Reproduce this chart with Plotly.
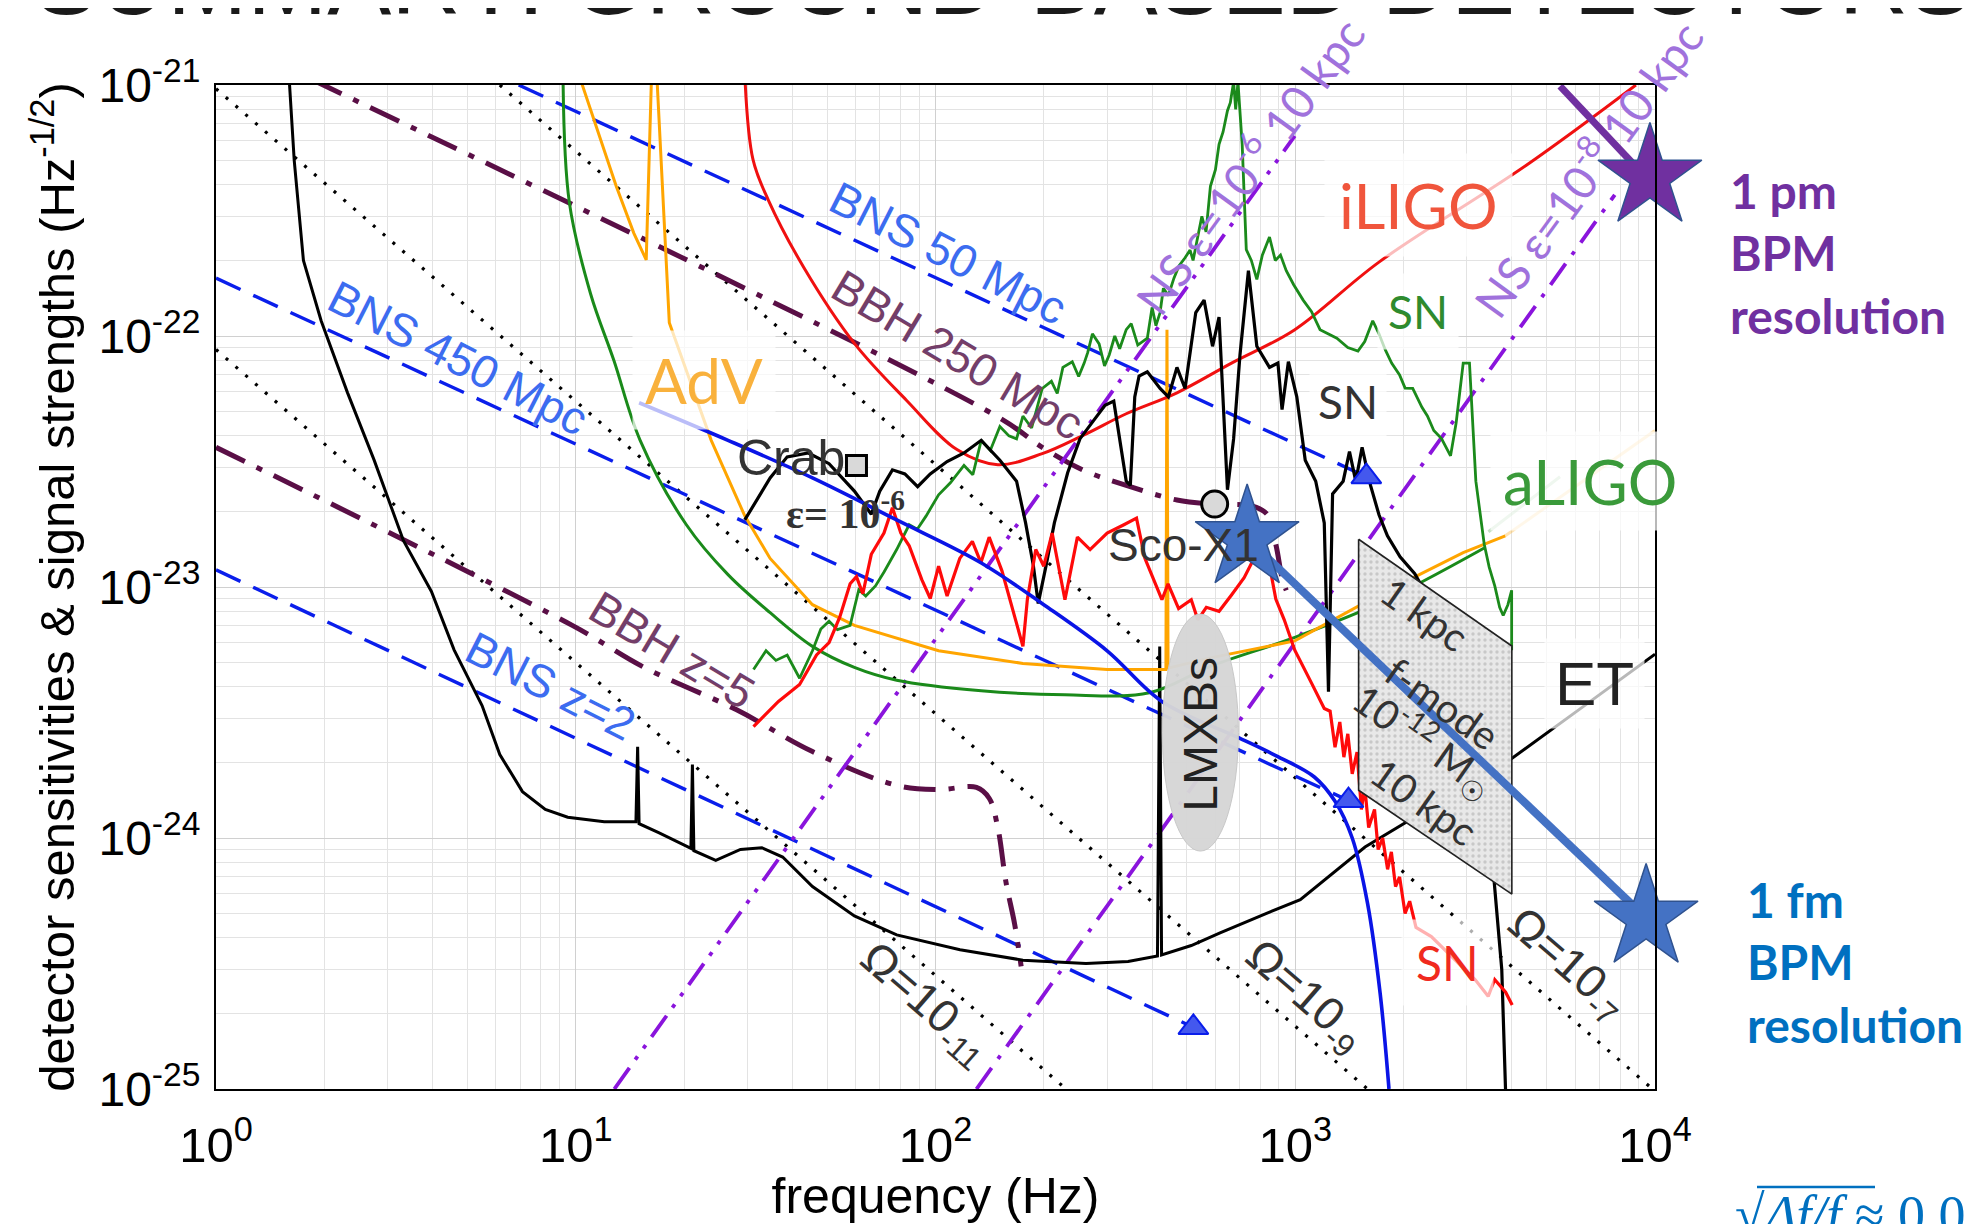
import plotly.graph_objects as go

# ---------------- axis ticks ----------------
X_TICKS = [1, 10, 100, 1000, 10000]
X_TICKTEXT = ["10<sup>0</sup>", "10<sup>1</sup>", "10<sup>2</sup>", "10<sup>3</sup>", "10<sup>4</sup>"]
Y_TICKS = [1e-25, 1e-24, 1e-23, 1e-22, 1e-21]
Y_TICKTEXT = ["10<sup>-25</sup>", "10<sup>-24</sup>", "10<sup>-23</sup>", "10<sup>-22</sup>", "10<sup>-21</sup>"]

# ---------------- detector sensitivity curves ----------------
ET_f = [1.60, 1.65, 1.75, 1.96, 2.32, 2.75, 3.32, 3.97, 4.59, 5.49, 6.15, 7.11, 8.23, 9.5, 12.0,
        14.7, 14.86, 15.0, 17.0, 20.3, 20.9, 21.1, 21.3, 24.5, 28.7, 32.9, 37.6, 45.5, 59.5, 78, 117,
        175, 262, 343, 414, 420, 425, 514, 618, 829, 1033, 1563, 2500, 3954, 6300, 10000]
ET_h = [1.02e-21, 5.0e-22, 2.0e-22, 1.15e-22, 5.95e-23, 3.21e-23, 1.53e-23, 9.6e-24, 5.62e-24, 3.37e-24,
        2.15e-24, 1.53e-24, 1.30e-24, 1.21e-24, 1.16e-24, 1.16e-24, 2.31e-24, 1.14e-24, 1.05e-24, 9.25e-25,
        9.1e-25, 1.96e-24, 8.9e-25, 8.15e-25, 9.0e-25, 9.15e-25, 8.4e-25, 6.41e-25, 4.89e-25, 4.11e-25,
        3.59e-25, 3.26e-25, 3.16e-25, 3.22e-25, 3.39e-25, 5.79e-24, 3.42e-25, 3.73e-25, 4.19e-25, 5.0e-25,
        5.68e-25, 9.2e-25, 1.38e-24, 2.05e-24, 3.33e-24, 5.4e-24]

ILIGO_f = [29.5, 31.1, 34.3, 43.0, 59.5, 83, 115, 149, 198, 259, 339, 469, 665, 997, 1709, 4389, 8850]
ILIGO_h = [1.1e-21, 5.04e-22, 3.48e-22, 1.88e-22, 9.35e-23, 5.55e-23, 3.52e-23, 3.07e-23, 3.4e-23,
           4.04e-23, 4.9e-23, 5.94e-23, 7.8e-23, 1.06e-22, 1.97e-22, 4.79e-22, 1.0e-21]

ADV_f = [10.2, 12.96, 14.5, 15.7, 16.3, 16.7, 18.2, 20.7, 23.8, 29.5, 34.7, 45.5, 59.5, 102, 175, 300,
         437, 440, 443, 581, 997, 1709, 2930, 3836]
ADV_h = [1.1e-21, 3.95e-22, 2.57e-22, 2.01e-22, 1.3e-21, 1.3e-21, 1.13e-22, 6.7e-23, 3.84e-23, 1.92e-23,
         1.30e-23, 8.5e-24, 7.03e-24, 5.57e-24, 4.96e-24, 4.69e-24, 4.69e-24, 1.06e-22, 4.75e-24, 5.22e-24,
         6.1e-24, 9.3e-24, 1.37e-23, 1.6e-23]
ADV_FADED_f = [3836, 10000]
ADV_FADED_h = [1.6e-23, 4.2e-23]

ALIGO_f = [9.22, 9.6, 11.0, 12.76, 15.1, 20.3, 26.5, 34.7, 45.5, 59.5, 78, 134, 229, 393, 581, 997, 1709, 3352]
ALIGO_h = [1.05e-21, 3.4e-22, 1.47e-22, 8.0e-23, 3.84e-23, 1.77e-23, 1.12e-23, 7.9e-24, 5.8e-24, 4.78e-24,
           4.25e-24, 3.86e-24, 3.72e-24, 3.79e-24, 4.83e-24, 6.3e-24, 8.6e-24, 1.43e-23]
ALIGO_FADED_f = [3443, 5445]
ALIGO_FADED_h = [1.66e-23, 2.75e-23]

# ---------------- supernova / signal curves ----------------
SN_GREEN_f = [31.2, 33.8, 36.0, 38.7, 41.9, 45.5, 48.0, 50.6, 53.4, 57.9, 61.2, 64.0, 68.1, 72.0, 78, 84.5,
              89, 94.2, 102, 110, 120, 127, 134, 142, 151, 160, 168, 175, 185, 198, 210, 218, 226, 240,
              250, 259, 265, 273, 285, 295, 304, 315, 325, 339, 350, 365, 388, 400, 410, 421, 430, 444,
              460, 475, 494, 510, 520, 536, 550, 565, 581, 600, 614, 630, 648, 660, 674, 683, 693, 712,
              731, 755, 782, 810, 848, 880, 910, 944, 990, 1052, 1110, 1172, 1240, 1305, 1400, 1494, 1560,
              1642, 1709, 1780, 1853, 1950, 2020, 2121, 2250, 2330, 2427, 2550, 2702, 2800, 2930, 3050,
              3177, 3260, 3352, 3460, 3586, 3700, 3785, 3900, 3995, 3995]
SN_GREEN_h = [4.69e-24, 5.57e-24, 5.1e-24, 5.36e-24, 4.33e-24, 5.57e-24, 6.8e-24, 7.3e-24, 6.76e-24, 7.03e-24,
              9.75e-24, 9.2e-24, 1.01e-23, 1.15e-23, 1.41e-23, 1.77e-23, 1.7e-23, 1.92e-23, 2.33e-23, 2.6e-23,
              3.05e-23, 2.8e-23, 3.84e-23, 3.5e-23, 4.36e-23, 4.0e-23, 3.89e-23, 4.8e-23, 4.3e-23, 6.18e-23,
              6.6e-23, 5.9e-23, 7.5e-23, 7.9e-23, 6.9e-23, 7.8e-23, 8.6e-23, 1.02e-22, 9.3e-23, 7.6e-23,
              8.4e-23, 1.0e-22, 8.9e-23, 1.06e-22, 1.12e-22, 9.2e-23, 9.8e-23, 1.3e-22, 1.1e-22, 1.24e-22,
              1.55e-22, 1.45e-22, 1.7e-22, 1.9e-22, 2.05e-22, 2.2e-22, 2.0e-22, 2.48e-22, 3.0e-22, 2.6e-22,
              3.95e-22, 4.6e-22, 5.8e-22, 6.5e-22, 7.9e-22, 8.5e-22, 1.03e-21, 8.0e-22, 1.03e-21, 5.8e-22,
              2.21e-22, 2.0e-22, 1.68e-22, 2.1e-22, 2.48e-22, 2.0e-22, 2.1e-22, 1.82e-22, 1.6e-22, 1.39e-22,
              1.25e-22, 1.06e-22, 1.02e-22, 9.8e-23, 9.0e-23, 8.7e-23, 9.5e-23, 1.15e-22, 1.02e-22, 8.8e-23,
              7.8e-23, 7.0e-23, 6.2e-23, 6.18e-23, 5.2e-23, 4.8e-23, 4.2e-23, 3.9e-23, 3.33e-23, 4.5e-23,
              7.8e-23, 7.8e-23, 2.64e-23, 2.0e-23, 1.48e-23, 1.2e-23, 1.01e-23, 8.3e-24, 7.7e-24, 8.5e-24,
              9.7e-24, 5.6e-24]

SN_BLACK_f = [29.5, 34.7, 38.7, 44.3, 50.6, 59.5, 66.3, 70, 75.9, 82.2, 89.2, 96.7, 107.7, 120, 134, 151,
              168, 178, 187, 193, 203, 214, 233, 252, 273, 296, 313, 339, 348, 358, 368, 388, 421, 444,
              469, 494, 529, 558, 589, 614, 648, 674, 702, 741, 782, 848, 895, 919, 957, 1010, 1066, 1140,
              1204, 1237, 1270, 1359, 1415, 1473, 1534, 1619, 1709, 1804, 1956, 2149, 2400, 2800, 3300,
              3450, 3600, 3750, 3900]
SN_BLACK_h = [1.85e-23, 2.72e-23, 3.3e-23, 3.42e-23, 3.1e-23, 2.41e-23, 1.95e-23, 2.41e-23, 2.93e-23,
              2.82e-23, 2.51e-23, 2.82e-23, 3.16e-23, 3.42e-23, 3.84e-23, 3.2e-23, 2.64e-23, 1.8e-23,
              1.22e-23, 8.6e-24, 1.22e-23, 1.8e-23, 2.85e-23, 3.89e-23, 4.54e-23, 5.3e-23, 5.5e-23, 2.64e-23,
              2.54e-23, 5.72e-23, 6.93e-23, 7.2e-23, 6.18e-23, 5.72e-23, 7.5e-23, 6.18e-23, 1.24e-22,
              1.39e-22, 9.1e-23, 1.19e-22, 2.44e-23, 3.89e-23, 8.4e-23, 1.82e-22, 9.1e-23, 7.5e-23, 7.8e-23,
              5.09e-23, 7.9e-23, 5.72e-23, 3.2e-23, 2.64e-23, 1.8e-23, 3.83e-24, 2.35e-23, 2.64e-23,
              3.46e-23, 2.64e-23, 3.6e-23, 2.54e-23, 1.94e-23, 1.6e-23, 1.32e-23, 1.13e-23, 8.5e-24,
              5.5e-24, 2.5e-24, 1.2e-24, 6e-25, 3e-25, 5e-26]

SN_RED_f = [31.2, 36.6, 41.9, 46.7, 50.6, 54.2, 57.9, 60.3, 62.8, 66.3, 71.9, 75.9, 80.1, 84.5, 91.6, 96.7,
            102, 107.7, 116.8, 126.6, 133.7, 141, 153, 166, 175, 180, 190, 200, 211, 229, 248, 269, 300,
            334, 362, 382, 404, 426, 443, 474, 514, 536, 566, 614, 665, 721, 772, 814, 848, 883, 932, 997,
            1110, 1204, 1250, 1290, 1330, 1365, 1400, 1440, 1485, 1527, 1560, 1600, 1661, 1700, 1750,
            1806, 1850, 1900, 1950, 2020, 2080, 2166, 2389, 2748, 3161, 3438, 3584, 3844, 4009]
SN_RED_h = [2.78e-24, 3.5e-24, 4.09e-24, 5.36e-24, 6.0e-24, 7.6e-24, 1.03e-23, 1.1e-23, 9.4e-24, 1.35e-23,
            1.64e-23, 2.07e-23, 1.64e-23, 1.46e-23, 1.07e-23, 9.0e-24, 1.21e-23, 9.2e-24, 1.3e-23, 1.52e-23,
            1.25e-23, 1.58e-23, 1.16e-23, 7.6e-24, 5.8e-24, 8.9e-24, 1.41e-23, 1.21e-23, 1.64e-23, 8.9e-24,
            1.58e-23, 1.41e-23, 1.64e-23, 1.77e-23, 1.88e-23, 1.3e-23, 1.07e-23, 8.9e-24, 1.03e-23, 8.2e-24,
            8.9e-24, 7.4e-24, 8.3e-24, 8.0e-24, 9.3e-24, 1.09e-23, 1.32e-23, 1.48e-23, 1.22e-23, 8.95e-24,
            7.4e-24, 5.6e-24, 4.14e-24, 3.28e-24, 3.2e-24, 2.3e-24, 2.9e-24, 2.1e-24, 2.6e-24, 1.8e-24,
            2.2e-24, 1.3e-24, 1.6e-24, 1.1e-24, 1.3e-24, 9.0e-25, 1.0e-24, 7.5e-25, 8.8e-25, 6.4e-25,
            7.0e-25, 5.0e-25, 5.6e-25, 4.4e-25, 4.05e-25, 3.33e-25, 2.73e-25, 2.34e-25, 2.73e-25, 2.43e-25,
            2.16e-25]

BLUE_f = [15, 26.5, 45.5, 78, 133.7, 200, 300, 426, 700, 900, 1130, 1290, 1440, 1588, 1722, 1822]
BLUE_h = [5.42e-23, 3.84e-23, 2.72e-23, 1.85e-23, 1.25e-23, 8.5e-24, 5.57e-24, 3.5e-24, 2.5e-24, 2.1e-24,
          1.75e-24, 1.4e-24, 1.0e-24, 5.5e-25, 2.4e-25, 1.0e-25]

# ---------------- reference source lines ----------------
BNS50_f, BNS50_h = [6.94, 1576], [1.0e-21, 2.75e-23]
BNS450_f, BNS450_h = [1, 1406], [1.7e-22, 1.41e-24]
BNSZ2_f, BNSZ2_h = [1, 521], [1.17e-23, 1.76e-25]

BBH250_f = [1.85, 151, 198, 259, 339, 469, 581, 761, 837, 883, 919, 944]
BBH250_h = [1.05e-21, 4.71e-23, 3.6e-23, 2.91e-23, 2.54e-23, 2.22e-23, 2.14e-23, 2.1e-23, 1.94e-23,
            1.48e-23, 1.09e-23, 9.7e-24]
BBHZ5_f = [1, 9.78, 15.5, 28, 45.5, 78, 102, 130, 141, 149, 157, 166, 173]
BBHZ5_h = [3.6e-23, 7.03e-24, 4.78e-24, 3.24e-24, 2.21e-24, 1.62e-24, 1.56e-24, 1.59e-24, 1.44e-24,
           1.1e-24, 6.67e-25, 4.53e-25, 3.08e-25]

OMEGA11_f, OMEGA11_h = [1, 230.5], [8.83e-23, 1e-25]
OMEGA9_f, OMEGA9_h = [1, 1588], [9.66e-22, 1e-25]
OMEGA7_f, OMEGA7_h = [6.15, 9840], [1e-21, 1e-25]

NS6_f, NS6_h = [12.8, 997], [1e-25, 6.27e-22]
NS8_f, NS8_h = [130, 7731], [1e-25, 3.65e-22]

TRI_f = [521, 1406, 1576]
TRI_h = [1.76e-25, 1.41e-24, 2.75e-23]
CRAB_f, CRAB_h = [60.3], [3.05e-23]
SCO_f, SCO_h = [597], [2.14e-23]

FMODE_f = [1500, 4000, 4000, 1500, 1500]
FMODE_h = [1.55e-23, 5.82e-24, 5.98e-25, 1.55e-24, 1.55e-23]
LMXB_f = [427, 695]
LMXB_h = [8.87e-25, 7.8e-24]

# BPM resolution stars
STAR_FM_f, STAR_FM_h = [735, 9446], [1.56e-23, 4.8e-25]
STAR_PM_f, STAR_PM_h = [9680], [4.3e-22]
PM_LINE_f, PM_LINE_h = [5445, 9446], [9.9e-22, 4.28e-22]

# ---------------- figure ----------------
fig = go.Figure()


def line(x, y, color, width, dash="solid", opacity=1.0, shape="linear"):
    fig.add_trace(go.Scatter(x=x, y=y, mode="lines", opacity=opacity, hoverinfo="skip",
                             line=dict(color=color, width=width, dash=dash, shape=shape)))


DOT = "3px,10px"
BNS_DASH = "27px,14px"
BBH_DASH = "32px,13px,6px,13px"
NS_DDOT = "26px,10px,4px,10px,4px,10px"
NS_DOT = "26px,11px,4px,11px"

for xf, yh in [(OMEGA11_f, OMEGA11_h), (OMEGA9_f, OMEGA9_h), (OMEGA7_f, OMEGA7_h)]:
    line(xf, yh, "black", 3.2, DOT)
for xf, yh in [(BNS50_f, BNS50_h), (BNS450_f, BNS450_h), (BNSZ2_f, BNSZ2_h)]:
    line(xf, yh, "#0A1EEB", 3.4, BNS_DASH)
line(BBH250_f, BBH250_h, "#5A0F46", 5, BBH_DASH, shape="spline")
line(BBHZ5_f, BBHZ5_h, "#5A0F46", 5, BBH_DASH, shape="spline")
line(NS6_f, NS6_h, "#8A14DC", 3.8, NS_DDOT)
line(NS8_f, NS8_h, "#8A14DC", 3.8, NS_DOT)

line(ET_f, ET_h, "black", 3)
line(ALIGO_FADED_f, ALIGO_FADED_h, "#1A8A1A", 3, opacity=0.25)
line(ALIGO_f, ALIGO_h, "#1A8A1A", 3, shape="spline")
line(ADV_FADED_f, ADV_FADED_h, "#FFA500", 3, opacity=0.3)
line(ADV_f, ADV_h, "#FFA500", 3)
line(ILIGO_f, ILIGO_h, "#F01010", 3, shape="spline")
line(SN_GREEN_f, SN_GREEN_h, "#1B8A1B", 2.8)
line(SN_BLACK_f, SN_BLACK_h, "black", 3.2)
line(SN_RED_f, SN_RED_h, "#FF0A0A", 3.2)
line(BLUE_f, BLUE_h, "#0A14E6", 3.6, shape="spline")

fig.add_trace(go.Scatter(x=TRI_f, y=TRI_h, mode="markers", hoverinfo="skip",
                         marker=dict(symbol="triangle-up", size=26, color="#4458EE",
                                     line=dict(color="#0A1EEB", width=2))))
fig.add_trace(go.Scatter(x=CRAB_f, y=CRAB_h, mode="markers", hoverinfo="skip",
                         marker=dict(symbol="square", size=20, color="#D9D9D9",
                                     line=dict(color="black", width=3))))
fig.add_trace(go.Scatter(x=SCO_f, y=SCO_h, mode="markers", hoverinfo="skip",
                         marker=dict(symbol="circle", size=26, color="#D9D9D9",
                                     line=dict(color="black", width=3))))

# f-mode parallelogram
fig.add_trace(go.Scatter(x=FMODE_f, y=FMODE_h, mode="lines", fill="toself", hoverinfo="skip",
                         fillcolor="#E4E4E4",
                         fillpattern=dict(shape=".", fgcolor="#A8A8A8", bgcolor="#E8E8E8",
                                          size=6, solidity=0.25),
                         line=dict(color="#222222", width=1.6)))

# BPM resolution markers
line(STAR_FM_f, STAR_FM_h, "#4472C4", 8)
line(PM_LINE_f, PM_LINE_h, "#7030A0", 7)
fig.add_trace(go.Scatter(x=STAR_FM_f, y=STAR_FM_h, mode="markers", hoverinfo="skip", cliponaxis=False,
                         marker=dict(symbol="star", size=78, color="#4472C4",
                                     line=dict(color="#2F528F", width=1.5))))
fig.add_trace(go.Scatter(x=STAR_PM_f, y=STAR_PM_h, mode="markers", hoverinfo="skip", cliponaxis=False,
                         marker=dict(symbol="star", size=78, color="#7030A0",
                                     line=dict(color="#2F528F", width=1.5))))

# LMXB ellipse
fig.add_shape(type="circle", xref="x", yref="y", x0=LMXB_f[0], x1=LMXB_f[1], y0=LMXB_h[0], y1=LMXB_h[1],
              fillcolor="rgba(214,214,214,0.97)", line=dict(color="#C8C8C8", width=1), layer="above")


# ---------------- annotations ----------------
def at(sx, sy):
    """position read from the (shrunk) reference picture -> axis (log10) coordinates"""
    return (sx - 171) / 284, -21 - (sy - 67) / 198.25


def paper(px, py):
    """full-size reference page pixel -> paper coordinates"""
    return (px - 216) / 1439, (1089 - py) / 1004


def label(text, sx, sy, color, size, angle=0, family="Liberation Sans", bg=None, pad=6):
    lx, ly = at(sx, sy)
    fig.add_annotation(x=lx, y=ly, xref="x", yref="y", text=text, showarrow=False, textangle=angle,
                       font=dict(family=family, size=size, color=color),
                       bgcolor=bg if bg else "rgba(0,0,0,0)", borderpad=pad)


WHITE = "rgba(255,255,255,0.72)"
label("iLIGO", 1120, 162, "#F0553C", 62, family="Lato", bg=WHITE, pad=14)
label("aLIGO", 1256, 380, "#3A9A3A", 62, family="Lato", bg=WHITE, pad=12)
label("AdV", 556, 300, "#F9B13C", 62, family="Lato", bg=WHITE, pad=12)
label("SN", 1120, 246, "#2E8B2E", 46, family="Lato", bg=WHITE, pad=10)
label("SN", 1065, 317, "#333333", 46, family="Lato", bg=WHITE, pad=8)
label("SN", 1143, 760, "#F02A1E", 48, family="Lato", bg="rgba(255,255,255,0.68)", pad=14)
label("ET", 1259, 540, "#222222", 62, bg=WHITE, pad=10)

label("BNS 50 Mpc", 749, 200, "#3C6CF0", 46, angle=27)
label("BNS 450 Mpc", 362, 283, "#3C6CF0", 46, angle=27)
label("BNS z=2", 435, 542, "#3C6CF0", 46, angle=27)
label("BBH 250 Mpc", 757, 280, "#733E69", 46, angle=31)
label("BBH z=5", 531, 513, "#733E69", 46, angle=31)

label("Ω=10<sub>-11</sub>", 731, 793, "#333333", 46, angle=41)
label("Ω=10<sub>-9</sub>", 1030, 787, "#333333", 46, angle=41)
label("Ω=10<sub>-7</sub>", 1237, 762, "#333333", 46, angle=41)

label("NS ε=10<sup>-6</sup> 10 kpc", 985, 130, "#A072DC", 46, angle=-54, family="Lato")
label("NS ε=10<sup>-8</sup> 10 kpc", 1252, 132, "#A072DC", 46, angle=-54, family="Lato")

label("Crab", 625, 362, "#333333", 50)
label("<b>ε= 10<sup>-6</sup></b>", 668, 403, "#333333", 42, family="Liberation Serif")
label("Sco-X1", 935, 430, "#333333", 46)
label("LMXBs", 948, 580, "#222222", 48, angle=-90)

label("1 kpc", 1125, 485, "#333333", 40, angle=35, family="Lato")
label("f-mode", 1139, 555, "#333333", 40, angle=35, family="Lato")
label("10<sup>-12</sup> M<sub>☉</sub>", 1125, 585, "#333333", 40, angle=35, family="Lato")
label("10 kpc", 1125, 633, "#333333", 40, angle=35, family="Lato")

# outside-plot texts
for txt, px, py, col in [("<b>1 pm<br>BPM<br>resolution</b>", 1728, 253, "#7030A0"),
                         ("<b>1 fm<br>BPM<br>resolution</b>", 1745, 962, "#0070C0")]:
    xp, yp = paper(px, py)
    fig.add_annotation(x=xp, y=yp, xref="paper", yref="paper", text=txt, showarrow=False,
                       xanchor="left", yanchor="middle", align="left",
                       font=dict(family="Lato", size=48, color=col))

xp, yp = paper(1003, 36)
fig.add_annotation(x=xp, y=yp, xref="paper", yref="paper", text="SUMMARY: GROUND-BASED DETECTORS",
                   showarrow=False, xanchor="center", yanchor="bottom",
                   font=dict(family="Liberation Sans", size=96, color="#1A1A1A"))

xp, yp = paper(1733, 1183)
fig.add_annotation(x=xp, y=yp, xref="paper", yref="paper", text="√<i>Δf/f</i> ≈ 0.0",
                   showarrow=False, xanchor="left", yanchor="top",
                   font=dict(family="Liberation Serif", size=54, color="#0070C0"))
x0p, ybar = paper(1757, 1187)
x1p, _ = paper(1875, 1187)
fig.add_shape(type="line", xref="paper", yref="paper", x0=x0p, x1=x1p, y0=ybar, y1=ybar,
              line=dict(color="#0070C0", width=2.5))

# ---------------- layout ----------------
# the page adds an 8px body margin, so the figure is 8px smaller on each axis
fig.update_layout(
    width=1977, height=1216,
    margin=dict(l=208, r=330, t=77, b=135, autoexpand=False),
    paper_bgcolor="white", plot_bgcolor="white", showlegend=False,
    font=dict(family="Liberation Sans", color="black"),
)
fig.update_xaxes(type="log", range=[0, 4], tickvals=X_TICKS, ticktext=X_TICKTEXT,
                 showline=True, mirror=True, linecolor="black", linewidth=2, zeroline=False,
                 showgrid=True, gridcolor="#D0D0D0", gridwidth=1.2,
                 minor=dict(showgrid=True, gridcolor="#E3E3E3", gridwidth=1, dtick="D1", ticks=""),
                 ticks="", ticklabelstandoff=12, tickfont=dict(size=49, color="black"),
                 title=dict(text="frequency (Hz)", font=dict(size=50, color="black"), standoff=8),
                 automargin=False)
fig.update_yaxes(type="log", range=[-25, -21], tickvals=Y_TICKS, ticktext=Y_TICKTEXT,
                 showline=True, mirror=True, linecolor="black", linewidth=2, zeroline=False,
                 showgrid=True, gridcolor="#D0D0D0", gridwidth=1.2,
                 minor=dict(showgrid=True, gridcolor="#E3E3E3", gridwidth=1, dtick="D1", ticks=""),
                 ticks="", ticklabelstandoff=4, tickfont=dict(size=48, color="black"),
                 title=dict(text="detector sensitivities & signal strengths (Hz<sup>-1/2</sup>)",
                            font=dict(size=49, color="black"), standoff=8),
                 automargin=False)

fig.write_html("out.html")
